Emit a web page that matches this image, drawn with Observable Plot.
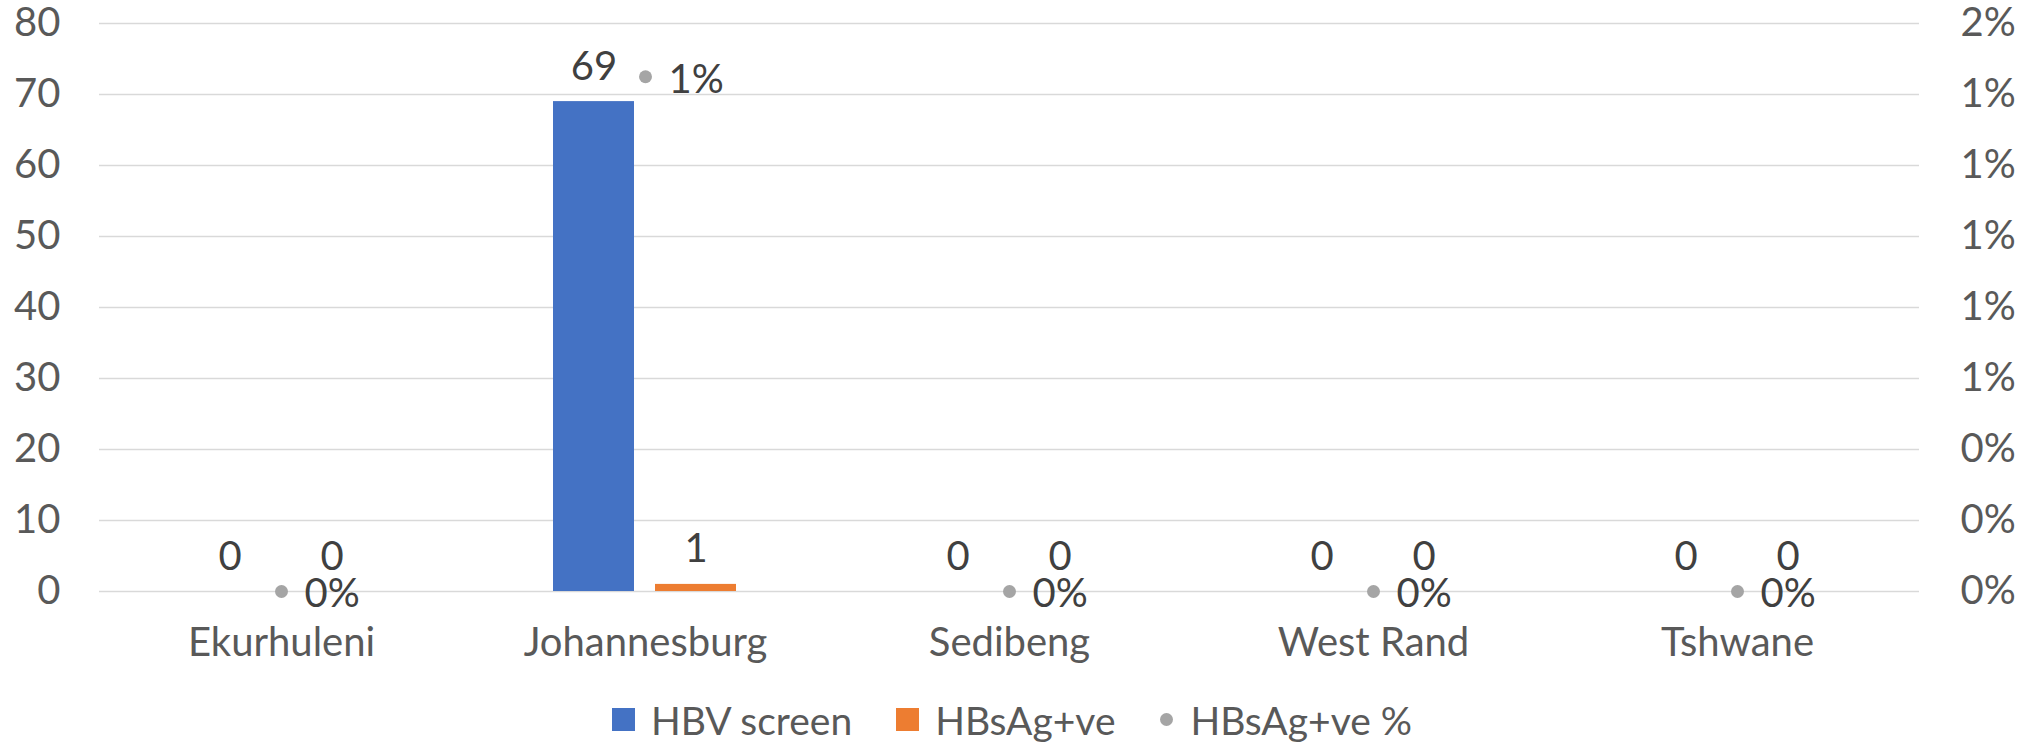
<!DOCTYPE html>
<html><head><meta charset="utf-8">
<script src="https://cdn.jsdelivr.net/npm/d3@7"></script>
<script src="https://cdn.jsdelivr.net/npm/@observablehq/plot@0.6"></script>
<style>
body{margin:0;background:#fff;font-family:Lato, sans-serif;}
#legend{display:flex;justify-content:center;align-items:center;height:53px;padding-top:3px;font-size:39px;color:#595959;}
.item{display:flex;align-items:center;margin:0 22px;}
.sw{width:23px;height:23px;margin-right:16px;}
.dt{width:13px;height:13px;border-radius:50%;margin-right:18px;}
</style></head><body><div id="chart"></div><div id="legend"></div>
<script>
const categories = ["Ekurhuleni","Johannesburg","Sedibeng","West Rand","Tshwane"];
const seriesNames = ["HBV screen","HBsAg+ve","HBsAg+ve %"];
const hbvScreen = [0,69,0,0,0];
const hbsagPositive = [0,1,0,0,0];
const hbsagPercent = [0,0.0145,0,0,0];
const leftTicks = [0,10,20,30,40,50,60,70,80];
const rightTickLabels = ["0%","0%","0%","1%","1%","1%","1%","1%","2%"];
const colors = ["#4472c4","#ed7d31","#a5a5a5"];
const pctMax = 0.016;
const countMax = 80;

const bars = categories.flatMap((c,i)=>[
  {cat:c, series:seriesNames[0], value:hbvScreen[i]},
  {cat:c, series:seriesNames[1], value:hbsagPositive[i]}
]);
const pts = categories.map((c,i)=>({cat:c, pct:hbsagPercent[i], y: hbsagPercent[i]/pctMax*countMax}));

const chart = Plot.plot({
  width:2024, height:690, marginLeft:97, marginRight:103, marginTop:23, marginBottom:99,
  style:{fontFamily:"Lato", fontSize:"40px", color:"#595959", background:"#fff", overflow:"visible"},
  fx:{domain:categories, padding:0, label:null, axis:"bottom", tickSize:0, tickPadding:36},
  x:{domain:seriesNames.slice(0,2), paddingInner:0.204, paddingOuter:0.873, axis:null},
  y:{domain:[0,countMax], axis:null},
  color:{domain:seriesNames.slice(0,2), range:colors.slice(0,2)},
  marks:[
    Plot.gridY(leftTicks,{stroke:"#d9d9d9", strokeOpacity:1, strokeWidth:1.5}),
    Plot.axisY(leftTicks,{anchor:"left", tickSize:0, tickPadding:39, label:null}),
    Plot.axisY(leftTicks,{anchor:"right", tickSize:0, tickPadding:41, label:null,
      tickFormat:d=>rightTickLabels[leftTicks.indexOf(d)]}),
    Plot.barY(bars,{fx:"cat", x:"series", y:"value", fill:"series"}),
    Plot.text(bars,{fx:"cat", x:"series", y:"value", text:d=>String(d.value), lineAnchor:"bottom", dy:-22, fill:"#404040"}),
    Plot.dot(pts,{fx:"cat", y:"y", r:6.5, fill:colors[2]}),
    Plot.text(pts,{fx:"cat", y:"y", text:d=>Math.round(d.pct*100)+"%", textAnchor:"start", dx:23, dy:3, fill:"#404040"})
  ]
});
document.getElementById("chart").appendChild(chart);

const legend = document.getElementById("legend");
seriesNames.forEach((s,i)=>{
  const it = document.createElement("div"); it.className="item";
  const m = document.createElement("div"); m.className = i<2 ? "sw" : "dt"; m.style.background = colors[i];
  const t = document.createElement("span"); t.textContent = s;
  it.appendChild(m); it.appendChild(t); legend.appendChild(it);
});
</script></body></html>
